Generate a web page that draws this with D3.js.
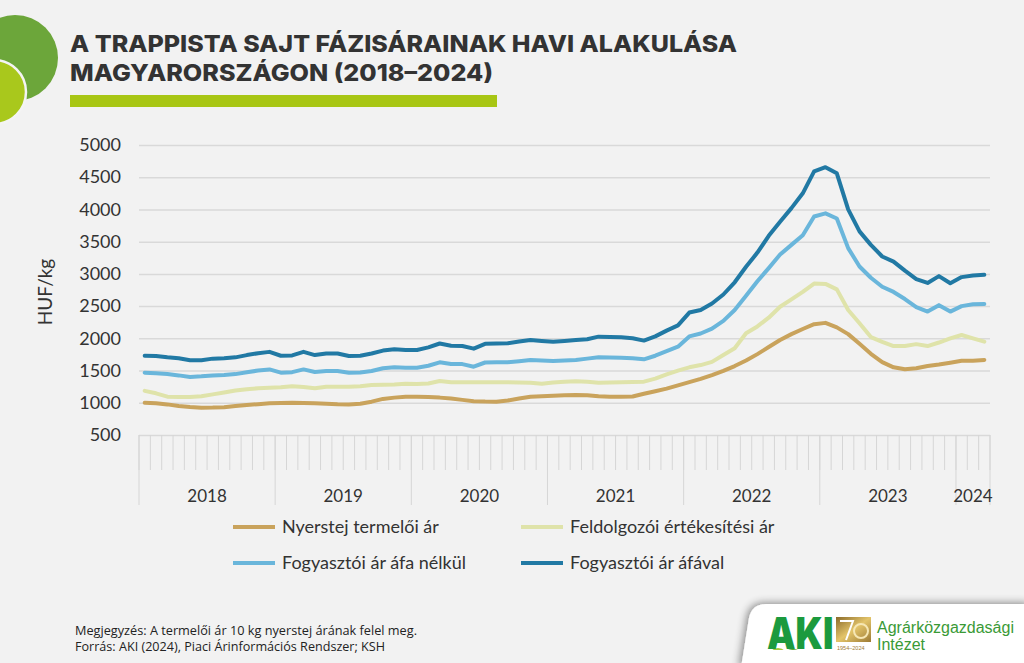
<!DOCTYPE html>
<html><head><meta charset="utf-8">
<script src="https://cdn.jsdelivr.net/npm/d3@7"></script>
<style>html,body{margin:0;padding:0;background:#f2f2f2;} svg{display:block;}</style>
</head><body>
<svg id="chart" width="1024" height="663"></svg>
<script>
// ---------------- DATA ----------------
const yearLabels = ["2018","2019","2020","2021","2022","2023","2024"];
const monthsPerYear = [12,12,12,12,12,12,3];
const yTicks = [500,1000,1500,2000,2500,3000,3500,4000,4500,5000];
const seriesNames = ["Nyerstej termelői ár","Feldolgozói értékesítési ár","Fogyasztói ár áfa nélkül","Fogyasztói ár áfával"];
const seriesColors = ["#c9a35c","#dfe3aa","#6ab6db","#2179a4"];

const producerPrice = [1000,993,975,950,935,924,925,932,950,966,978,991,
 995,1000,998,991,985,976,975,985,1017,1060,1080,1095,
 1095,1088,1080,1065,1045,1025,1018,1017,1035,1065,1095,1102,
 1110,1115,1120,1115,1100,1095,1095,1098,1140,1180,1220,1270,
 1320,1370,1430,1495,1570,1655,1755,1865,1975,2065,2145,2220,
 2240,2170,2065,1915,1760,1630,1550,1520,1537,1572,1595,1622,
 1652,1653,1664];
const processorPrice = [1185,1147,1095,1090,1088,1100,1130,1160,1190,1210,1225,1232,
 1240,1258,1245,1225,1248,1250,1250,1258,1275,1280,1284,1295,
 1290,1300,1338,1320,1318,1318,1318,1318,1318,1315,1310,1295,
 1315,1325,1335,1325,1312,1315,1318,1322,1328,1375,1440,1500,
 1550,1585,1635,1740,1845,2080,2185,2320,2490,2605,2720,2850,
 2845,2760,2440,2235,2020,1945,1880,1880,1910,1880,1935,2000,
 2052,2000,1948];
const consumerNoVat = [1467,1457,1445,1425,1400,1410,1425,1432,1445,1475,1500,1518,
 1467,1475,1518,1478,1493,1493,1467,1470,1493,1535,1550,1545,
 1545,1575,1628,1602,1600,1560,1625,1630,1628,1645,1664,1655,
 1648,1655,1664,1685,1706,1703,1700,1690,1674,1730,1800,1870,
 2030,2075,2150,2270,2440,2660,2885,3090,3300,3450,3600,3890,
 3940,3860,3400,3115,2940,2800,2720,2610,2485,2415,2515,2415,
 2500,2528,2533];
const consumerVat = [1730,1725,1705,1690,1660,1660,1685,1690,1705,1740,1770,1790,
 1730,1735,1790,1740,1765,1765,1725,1730,1765,1810,1830,1820,
 1820,1860,1920,1885,1880,1840,1915,1920,1923,1950,1974,1960,
 1948,1960,1974,1985,2026,2020,2016,2000,1965,2030,2120,2200,
 2400,2440,2540,2680,2870,3110,3330,3590,3810,4020,4250,4590,
 4655,4560,4000,3660,3450,3270,3190,3050,2920,2860,2965,2855,
 2950,2975,2985];

const titleLines = ["A TRAPPISTA SAJT FÁZISÁRAINAK HAVI ALAKULÁSA","MAGYARORSZÁGON (2018–2024)"];
const yAxisTitle = "HUF/kg";
const footnotes = ["Megjegyzés: A termelői ár 10 kg nyerstej árának felel meg.","Forrás: AKI (2024), Piaci Árinformációs Rendszer; KSH"];

// ---------------- CHART ----------------
(function(){
const svg = d3.select("#chart");
svg.append("rect").attr("width",1024).attr("height",663).attr("fill","#f2f2f2");

// decorative circles
svg.append("circle").attr("cx",15).attr("cy",58).attr("r",43).attr("fill","#6ca63a");
svg.append("circle").attr("cx",-6).attr("cy",92).attr("r",32).attr("fill","#a9c81c").attr("stroke","#f4f4f4").attr("stroke-width",2.5);

// title
svg.selectAll("text.title").data(titleLines).join("text")
  .attr("class","title").attr("x",70).attr("y",(d,i)=>52+i*29)
  .attr("font-family","Inter, Lato, sans-serif").attr("font-weight",800)
  .attr("font-size",23).attr("fill","#333")
  .attr("textLength",(d,i)=>i===0?667:423).attr("lengthAdjust","spacingAndGlyphs")
  .text(d=>d);
svg.append("rect").attr("x",70).attr("y",95).attr("width",427).attr("height",12).attr("fill","#a8c614");

// categories
const categories = [];
yearLabels.forEach((yr,yi)=>{ for(let m=1;m<=monthsPerYear[yi];m++) categories.push(yr+"-"+String(m).padStart(2,"0")); });

const pl=139, pr=990, pt=145, pb=435;
const x = d3.scaleBand().domain(categories).range([pl,pr]).padding(0);
const y = d3.scaleLinear().domain([500,5000]).range([pb,pt]);

// y axis + grid
const yAxis = svg.append("g").attr("transform",`translate(${pl},0)`)
  .call(d3.axisLeft(y).tickValues(yTicks).tickSizeInner(-(pr-pl)).tickSizeOuter(0).tickPadding(18).tickFormat(d3.format("d")));
yAxis.select(".domain").remove();
yAxis.selectAll(".tick line").attr("stroke","#d9d9d9").attr("stroke-width",1.5);
yAxis.selectAll(".tick text").attr("font-family","Lato, sans-serif").attr("font-size",18).attr("fill","#333");

svg.append("text").attr("transform","translate(52,292) rotate(-90)")
  .attr("text-anchor","middle").attr("font-family","Lato, sans-serif").attr("font-size",19).attr("fill","#333").text(yAxisTitle);

// x axis ticks
const xg = svg.append("g");
const monthBounds = categories.map(c=>x(c)).concat([pr]);
xg.selectAll("line.m").data(monthBounds).join("line").attr("class","m")
  .attr("x1",d=>d).attr("x2",d=>d).attr("y1",pb).attr("y2",470)
  .attr("stroke","#d6d6d6").attr("stroke-width",1);
let idx=0; const yearSpans=[];
yearLabels.forEach((yr,yi)=>{ const s=x(categories[idx]); idx+=monthsPerYear[yi];
  const e = idx<categories.length ? x(categories[idx]) : pr; yearSpans.push({yr,s,e}); });
const yearBounds = yearSpans.map(d=>d.s).concat([pr]);
xg.selectAll("line.y").data(yearBounds).join("line").attr("class","y")
  .attr("x1",d=>d).attr("x2",d=>d).attr("y1",pb).attr("y2",505)
  .attr("stroke","#d6d6d6").attr("stroke-width",1);
xg.selectAll("text").data(yearSpans).join("text")
  .attr("x",d=>(d.s+d.e)/2).attr("y",502).attr("text-anchor","middle")
  .attr("font-family","Lato, sans-serif").attr("font-size",17).attr("fill","#333").text(d=>d.yr);

// lines
const allSeries = [producerPrice, processorPrice, consumerNoVat, consumerVat];
const line = d3.line().x((d,i)=>x(categories[i])+x.bandwidth()/2).y(d=>y(d));
svg.append("g").selectAll("path").data(allSeries).join("path")
  .attr("d",line).attr("fill","none").attr("stroke",(d,i)=>seriesColors[i])
  .attr("stroke-width",4).attr("stroke-linejoin","round").attr("stroke-linecap","round");

// legend
const legendPos = [[233,527],[521,527],[233,563],[521,563]];
const lg = svg.append("g").selectAll("g").data(seriesNames).join("g")
  .attr("transform",(d,i)=>`translate(${legendPos[i][0]},${legendPos[i][1]})`);
lg.append("line").attr("x1",0).attr("x2",42).attr("y1",0).attr("y2",0)
  .attr("stroke",(d,i)=>seriesColors[i]).attr("stroke-width",4);
lg.append("text").attr("x",49).attr("y",6).attr("font-family","Lato, sans-serif")
  .attr("font-size",18).attr("fill","#333").text(d=>d);

// footnotes
svg.selectAll("text.foot").data(footnotes).join("text").attr("class","foot")
  .attr("x",75).attr("y",(d,i)=>635+i*16).attr("font-family","'Open Sans', sans-serif")
  .attr("font-size",12).attr("fill","#222")
  .attr("textLength",(d,i)=>i===0?342:310).attr("lengthAdjust","spacingAndGlyphs").text(d=>d);

// logo panel
const defs = svg.append("defs");
const f = defs.append("filter").attr("id","sh").attr("x","-20%").attr("y","-40%").attr("width","140%").attr("height","180%");
f.append("feGaussianBlur").attr("in","SourceAlpha").attr("stdDeviation",4);
f.append("feOffset").attr("dx",-2).attr("dy",-1).attr("result","b");
f.append("feComponentTransfer").append("feFuncA").attr("type","linear").attr("slope",0.45);
const fm = f.append("feMerge"); fm.append("feMergeNode"); fm.append("feMergeNode").attr("in","SourceGraphic");
svg.append("path").attr("d","M1030,604 L766,604 Q752,604 749,618 L741,668 L1030,668 Z")
  .attr("fill","#ffffff").attr("filter","url(#sh)");
const gold = defs.append("linearGradient").attr("id","gold").attr("x1",0).attr("y1",0).attr("x2",1).attr("y2",1);
gold.append("stop").attr("offset","0%").attr("stop-color","#8a6a2a");
gold.append("stop").attr("offset","50%").attr("stop-color","#e3c46a");
gold.append("stop").attr("offset","100%").attr("stop-color","#9c7a34");
// hills
svg.append("circle").attr("cx",778).attr("cy",658).attr("r",10).attr("fill","#a4c93a");
svg.append("circle").attr("cx",793).attr("cy",660).attr("r",11).attr("fill","#5aa32e");
svg.append("rect").attr("x",760).attr("y",650).attr("width",50).attr("height",14).attr("fill","#ffffff");
svg.append("text").attr("transform","translate(767,649) scale(1,1.2)").attr("font-family","Inter, sans-serif").attr("font-weight",900)
  .attr("font-size",36).attr("fill","#1b9a3e").text("AKI");
svg.append("rect").attr("x",836).attr("y",617).attr("width",35).attr("height",25).attr("fill","url(#gold)");
svg.append("path").attr("d","M840,621 L853,621 L846,640").attr("fill","none").attr("stroke","#ffffff").attr("stroke-width",2);
svg.append("circle").attr("cx",861).attr("cy",631).attr("r",7).attr("fill","none").attr("stroke","#f6e7b4").attr("stroke-width",2);
svg.append("text").attr("x",837).attr("y",650).attr("font-family","Liberation Sans, sans-serif").attr("font-size",5.5)
  .attr("fill","#9c7a34").text("1954–2024");
svg.append("text").attr("x",877).attr("y",633).attr("font-family","Liberation Sans, Arial, sans-serif")
  .attr("font-size",16).attr("fill","#3a9a36").text("Agrárközgazdasági");
svg.append("text").attr("x",877).attr("y",650).attr("font-family","Liberation Sans, Arial, sans-serif")
  .attr("font-size",16).attr("fill","#3a9a36").text("Intézet");
})();
</script>
</body></html>
